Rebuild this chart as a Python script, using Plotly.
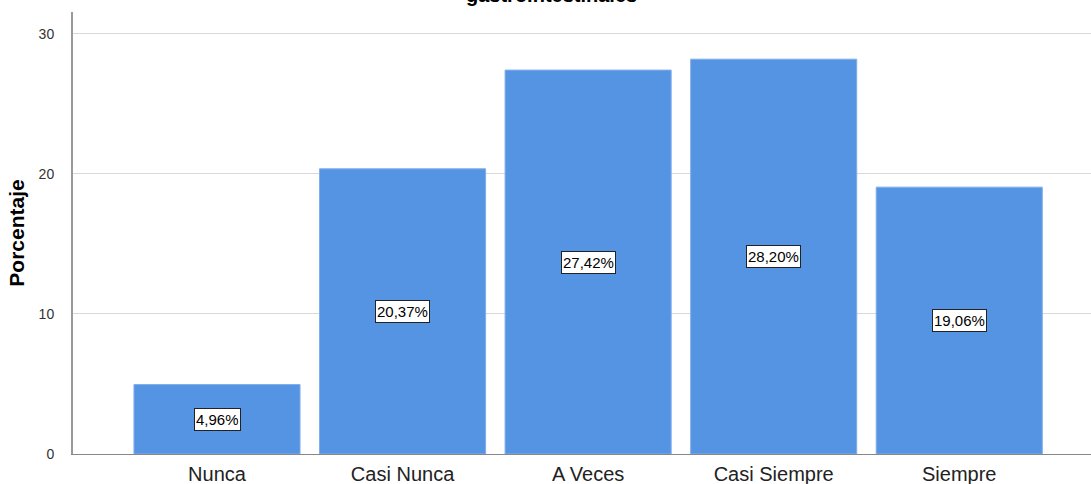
import plotly.graph_objects as go

# datos de la figura
categorias = ["Nunca", "Casi Nunca", "A Veces", "Casi Siempre", "Siempre"]
porcentajes = [4.96, 20.37, 27.42, 28.20, 19.06]
etiquetas = ["4,96%", "20,37%", "27,42%", "28,20%", "19,06%"]
titulo = "gastrointestinales"

fig = go.Figure()

fig.add_trace(go.Bar(x=categorias, y=porcentajes,
                     width=0.895,
                     marker=dict(color="#5594E3",
                                 line=dict(color="#7FAEEB", width=1)),
                     hoverinfo="skip"))

# etiquetas de valor en el centro de cada barra
for cat, val, txt in zip(categorias, porcentajes, etiquetas):
    fig.add_annotation(x=cat, y=val / 2, text=txt, showarrow=False,
                       font=dict(family="Liberation Sans, Arial", size=15, color="black"),
                       bgcolor="white", bordercolor="#222222", borderwidth=1,
                       borderpad=1, height=19)

# título cortado arriba
fig.add_annotation(xref="paper", yref="paper", x=0.4696, y=1, yshift=4,
                   yanchor="bottom", text="<b>" + titulo + "</b>", showarrow=False,
                   font=dict(family="Liberation Sans, Arial", size=20, color="black"))

fig.update_layout(
    width=1091, height=484,
    margin=dict(l=73, r=0, t=12, b=30),
    plot_bgcolor="white", paper_bgcolor="white",
    showlegend=False,
    font=dict(family="Liberation Sans, Arial"),
    xaxis=dict(range=[-0.776, 4.71], showgrid=False, ticks="",
               showline=True, linecolor="#888888", linewidth=1,
               ticklabelstandoff=2,
               tickfont=dict(size=20, color="#222222")),
    yaxis=dict(range=[0, 31.57], tickvals=[0, 10, 20, 30],
               showgrid=True, gridcolor="#D9D9D9", gridwidth=1,
               showline=True, linecolor="#999999", linewidth=2,
               zeroline=False, ticks="", ticklabelstandoff=14,
               tickfont=dict(size=14, color="#333333"),
               title=dict(text="<b>Porcentaje</b>", standoff=8,
                          font=dict(size=21, color="black"))),
)

fig.write_html("out.html", config={"displayModeBar": False},
               post_script="document.body.style.margin='0px';")
